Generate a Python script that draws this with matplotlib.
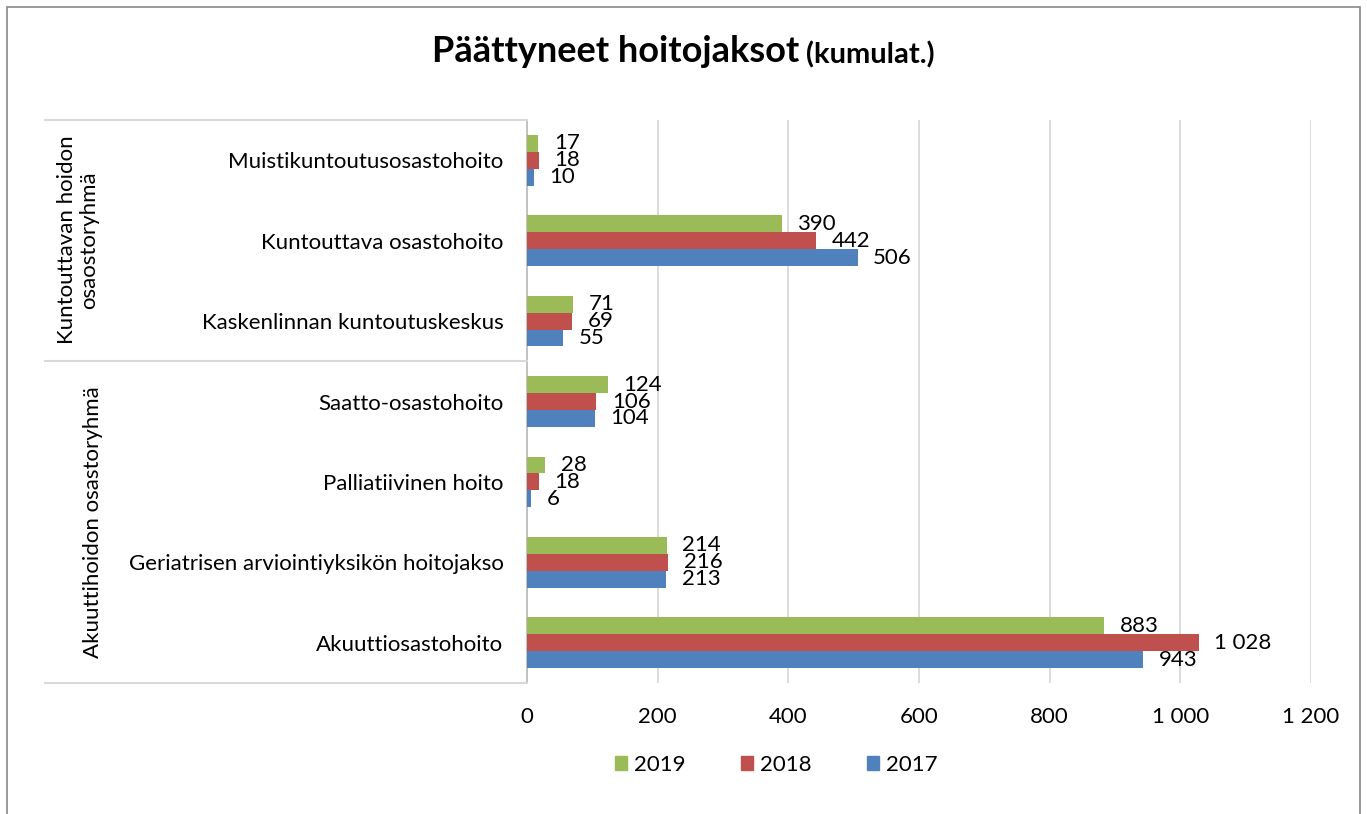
import matplotlib.pyplot as plt
from matplotlib.lines import Line2D
from matplotlib.patches import Rectangle, Patch

plt.rcParams['font.family'] = ['Lato', 'DejaVu Sans']

categories = ["Muistikuntoutusosastohoito", "Kuntouttava osastohoito",
              "Kaskenlinnan kuntoutuskeskus", "Saatto-osastohoito",
              "Palliatiivinen hoito", "Geriatrisen arviointiyksikön hoitojakso",
              "Akuuttiosastohoito"]
groups = ["Kuntouttavan hoidon\nosaostoryhmä", "Akuuttihoidon osastoryhmä"]
years = ["2019", "2018", "2017"]
v2019 = [17, 390, 71, 124, 28, 214, 883]
v2018 = [18, 442, 69, 106, 18, 216, 1028]
v2017 = [10, 506, 55, 104, 6, 213, 943]
colors = ["#9BBB59", "#C0504D", "#4F81BD"]
xticks = [0, 200, 400, 600, 800, 1000, 1200]

W, H = 1367, 814
fig = plt.figure(figsize=(W / 100, H / 100), dpi=100)

def fx(px):
    return px / W

def fy(py):
    return 1 - py / H

# outer frame
fig.patches.append(Rectangle((fx(7), -0.01), fx(1360) - fx(7), fy(7) + 0.01,
                             transform=fig.transFigure, fill=False,
                             edgecolor="#888888", lw=1.2))

left, right, top, bottom = 527, 1311, 120, 683
ax = fig.add_axes([fx(left), fy(bottom), fx(right) - fx(left), fy(top) - fy(bottom)])

h = 0.21
ypos = list(range(len(categories)))
for series, off, col in zip([v2019, v2018, v2017], [-h, 0, h], colors):
    ys = [y + off for y in ypos]
    ax.barh(ys, series, height=h, color=col, zorder=3)
    for y, v in zip(ys, series):
        ax.text(v + 24, y, f"{v:,}".replace(",", " "), ha="left", va="center",
                fontsize=16, zorder=4)

ax.set_xlim(0, 1200)
ax.set_ylim(len(categories) - 0.5, -0.5)
ax.set_xticks(xticks)
ax.set_xticklabels([f"{t:,}".replace(",", " ") for t in xticks], fontsize=16)
ax.set_yticks(ypos)
ax.set_yticklabels(categories, fontsize=16)
ax.tick_params(axis="y", length=0, pad=17)
ax.tick_params(axis="x", length=0, pad=17)
ax.grid(axis="x", color="#d9d9d9", lw=1.3, zorder=0)
for s in ["top", "right", "bottom"]:
    ax.spines[s].set_visible(False)
ax.spines["left"].set_color("#bfbfbf")
ax.spines["left"].set_linewidth(1.3)

# category group box lines
for py in [top, 361, bottom]:
    fig.add_artist(Line2D([fx(45), fx(left)], [fy(py), fy(py)],
                          transform=fig.transFigure, color="#d9d9d9", lw=1.5))

fig.text(fx(78), fy(240), groups[0], rotation=90, ha="center", va="center",
         fontsize=16, linespacing=1.1)
fig.text(fx(93), fy(522), groups[1], rotation=90, ha="center", va="center",
         fontsize=16)

# title in two sizes
renderer = fig.canvas.get_renderer()
t1 = fig.text(0, fy(52), "Päättyneet hoitojaksot", fontsize=26,
              fontweight="bold", va="center", ha="left")
t2 = fig.text(0, fy(55), "(kumulat.)", fontsize=21, fontweight="bold",
              va="center", ha="left")
w1 = t1.get_window_extent(renderer).width
w2 = t2.get_window_extent(renderer).width
gap = 7
x0 = W / 2 - (w1 + gap + w2) / 2
t1.set_x(fx(x0))
t2.set_x(fx(x0 + w1 + gap))

handles = [Patch(color=c) for c in colors]
fig.legend(handles, years, loc="center", bbox_to_anchor=(fx(776), fy(765)),
           ncol=3, frameon=False, fontsize=16, handlelength=0.55,
           handleheight=0.55, handletextpad=0.3, columnspacing=2.5)

fig.savefig("out.png", dpi=100)
